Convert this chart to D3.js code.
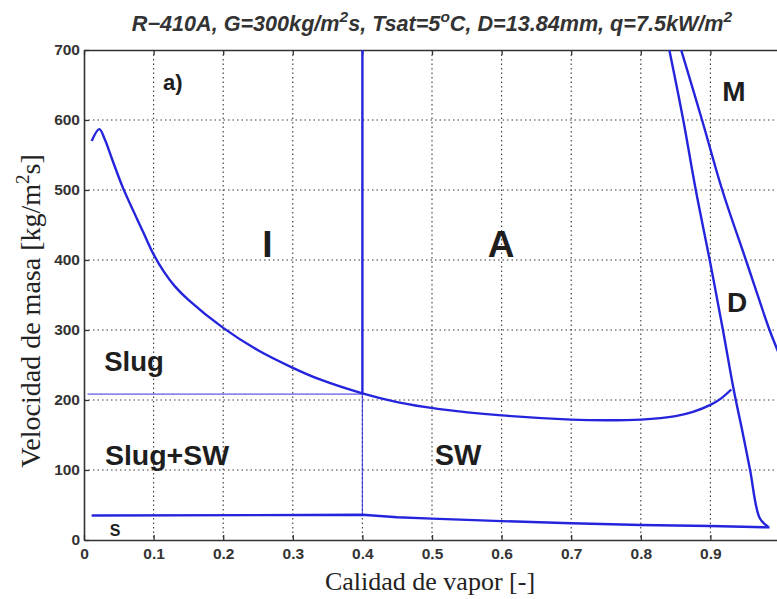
<!DOCTYPE html>
<html>
<head>
<meta charset="utf-8">
<script src="https://cdn.jsdelivr.net/npm/d3@7"></script>
<style>
  html, body { margin: 0; padding: 0; background: #fff; }
  svg { display: block; }
</style>
</head>
<body>
<svg id="chart" width="777" height="599"></svg>
<script>
// Axis ticks
const xTicks = [0, 0.1, 0.2, 0.3, 0.4, 0.5, 0.6, 0.7, 0.8, 0.9];
const yTicks = [0, 100, 200, 300, 400, 500, 600, 700];

// Flow pattern transition boundaries: [vapor quality, mass velocity]
const intermittentAnnular = [
  [0.011, 570], [0.022, 587], [0.030, 572], [0.040, 545], [0.056, 503],
  [0.085, 440], [0.100, 408], [0.115, 383], [0.130, 363], [0.150, 343],
  [0.200, 303], [0.250, 271], [0.300, 246], [0.340, 229], [0.400, 209.5],
  [0.450, 197], [0.511, 187], [0.600, 178], [0.700, 172], [0.750, 171],
  [0.800, 172], [0.850, 177], [0.875, 183], [0.900, 193], [0.915, 202],
  [0.930, 215]
];
const annularDryout = [
  [0.841, 700], [0.861, 600], [0.879, 500], [0.899, 400], [0.918, 300],
  [0.934, 212], [0.946, 155], [0.957, 100], [0.971, 31], [0.983, 19]
];
const dryoutMist = [
  [0.858, 700], [0.888, 600], [0.917, 500], [0.951, 400], [0.985, 300],
  [0.996, 272], [1.000, 262]
];
const stratified = [
  [0.011, 35], [0.400, 36], [0.450, 32.5], [0.500, 30.5], [0.600, 27],
  [0.700, 24], [0.800, 21.5], [0.900, 20], [0.985, 18]
];
const slugLine = [[0.005, 208.5], [0.400, 208.5]];
const iaVertical = [[0.400, 36], [0.400, 208.5]];
const iaVerticalUpper = [[0.400, 208.5], [0.400, 700]];

// Region labels: [text, vapor quality, mass velocity, font size]
const regionLabels = [
  ["a)", 0.1135, 643, 22],
  ["I", 0.256, 404, 37],
  ["A", 0.580, 404, 37],
  ["M", 0.917, 627, 28],
  ["D", 0.924, 326, 28],
  ["Slug", 0.029, 241, 27.5],
  ["Slug+SW", 0.030, 107, 28.5],
  ["SW", 0.504, 107, 29],
  ["S", 0.037, 6, 16]
];

const svg = d3.select("#chart");
const mLeft = 84, mRight = 780, mTop = 50, mBottom = 540;

const x = d3.scaleLinear().domain([0, 1]).range([mLeft, mRight]);
const y = d3.scaleLinear().domain([0, 700]).range([mBottom, mTop]);

const axisColor = "#333";
const blue = "#2424dc";

svg.append("defs").append("clipPath").attr("id", "plotClip")
  .append("rect").attr("x", mLeft).attr("y", mTop)
  .attr("width", mRight - mLeft).attr("height", mBottom - mTop);

// Dotted grid
const grid = svg.append("g").attr("stroke", "#3a3a3a").attr("stroke-width", 1.1)
  .attr("stroke-dasharray", "1.5,3");
grid.selectAll("line.gx").data(xTicks.filter(d => d > 0)).join("line")
  .attr("class", "gx")
  .attr("x1", d => x(d)).attr("x2", d => x(d))
  .attr("y1", mTop).attr("y2", mBottom);
grid.selectAll("line.gy").data(yTicks.filter(d => d > 0 && d < 700)).join("line")
  .attr("class", "gy")
  .attr("x1", mLeft).attr("x2", mRight)
  .attr("y1", d => y(d)).attr("y2", d => y(d));

// Axes with inward ticks
const xAxis = d3.axisBottom(x).tickValues(xTicks).tickSizeInner(-5).tickSizeOuter(0)
  .tickPadding(8).tickFormat(d => d === 0 ? "0" : d3.format(".1f")(d));
const xTop = d3.axisTop(x).tickValues(xTicks).tickSizeInner(-5).tickSizeOuter(0)
  .tickFormat("");
const yAxis = d3.axisLeft(y).tickValues(yTicks).tickSizeInner(-5).tickSizeOuter(0)
  .tickPadding(4).tickFormat(d3.format("d"));

function styleAxis(g) {
  g.select(".domain").attr("stroke", axisColor).attr("stroke-width", 1.6);
  g.selectAll(".tick line").attr("stroke", axisColor).attr("stroke-width", 1.3);
  g.selectAll(".tick text").attr("fill", "#333")
    .style("font-family", "'Liberation Sans', Arial, sans-serif")
    .style("font-weight", "bold").style("font-size", "15.5px");
}
svg.append("g").attr("transform", `translate(0,${mBottom})`).call(xAxis).call(styleAxis);
svg.append("g").attr("transform", `translate(0,${mTop})`).call(xTop).call(styleAxis);
svg.append("g").attr("transform", `translate(${mLeft},0)`).call(yAxis).call(styleAxis);

// Boundary curves
const plot = svg.append("g").attr("clip-path", "url(#plotClip)");
const smooth = d3.line().x(d => x(d[0])).y(d => y(d[1])).curve(d3.curveCatmullRom.alpha(0.5));
const straight = d3.line().x(d => x(d[0])).y(d => y(d[1]));

plot.append("path").datum(slugLine).attr("d", straight)
  .attr("fill", "none").attr("stroke", blue).attr("stroke-width", 1.3).attr("opacity", 0.75);
plot.append("path").datum(iaVertical).attr("d", straight)
  .attr("fill", "none").attr("stroke", blue).attr("stroke-width", 1.3).attr("opacity", 0.75);
plot.append("path").datum(iaVerticalUpper).attr("d", straight)
  .attr("fill", "none").attr("stroke", blue).attr("stroke-width", 2.4);

[intermittentAnnular, annularDryout, dryoutMist].forEach(data => {
  plot.append("path").datum(data).attr("d", smooth)
    .attr("fill", "none").attr("stroke", blue).attr("stroke-width", 2.4)
    .attr("stroke-linejoin", "round");
});
plot.append("path").datum(stratified).attr("d", straight)
  .attr("fill", "none").attr("stroke", blue).attr("stroke-width", 2.4)
  .attr("stroke-linejoin", "round");

// Region labels
svg.append("g").selectAll("text").data(regionLabels).join("text")
  .attr("x", d => x(d[1])).attr("y", d => y(d[2]))
  .attr("fill", "#1e1e1e")
  .style("font-family", "'Liberation Sans', Arial, sans-serif")
  .style("font-weight", "bold")
  .style("font-size", d => d[3] + "px")
  .text(d => d[0]);

// Title
const title = svg.append("text").attr("x", 432).attr("y", 31)
  .attr("text-anchor", "middle").attr("fill", "#333")
  .style("font-family", "'Liberation Sans', Arial, sans-serif")
  .style("font-weight", "bold").style("font-style", "italic").style("font-size", "21.6px");
const sup = (t) => title.append("tspan").attr("dy", -9).style("font-size", "15.5px").text(t);
const base = (t) => title.append("tspan").attr("dy", 9).text(t);
title.append("tspan").text("R\u2212410A, G=300kg/m");
sup("2"); base("s, Tsat=5");
sup("o"); base("C, D=13.84mm, q=7.5kW/m");
sup("2");

// Axis titles
svg.append("text").attr("x", 430).attr("y", 590).attr("text-anchor", "middle")
  .attr("fill", "#222")
  .style("font-family", "'Liberation Serif', 'Times New Roman', serif").style("font-size", "26px")
  .text("Calidad de vapor [-]");

const yTitle = svg.append("text")
  .attr("transform", "translate(40,311) rotate(-90)")
  .attr("text-anchor", "middle").attr("fill", "#222")
  .style("font-family", "'Liberation Serif', 'Times New Roman', serif").style("font-size", "28px");
yTitle.append("tspan").text("Velocidad de masa [kg/m");
yTitle.append("tspan").attr("dy", -11).style("font-size", "19px").text("2");
yTitle.append("tspan").attr("dy", 11).text("s]");
</script>
</body>
</html>
